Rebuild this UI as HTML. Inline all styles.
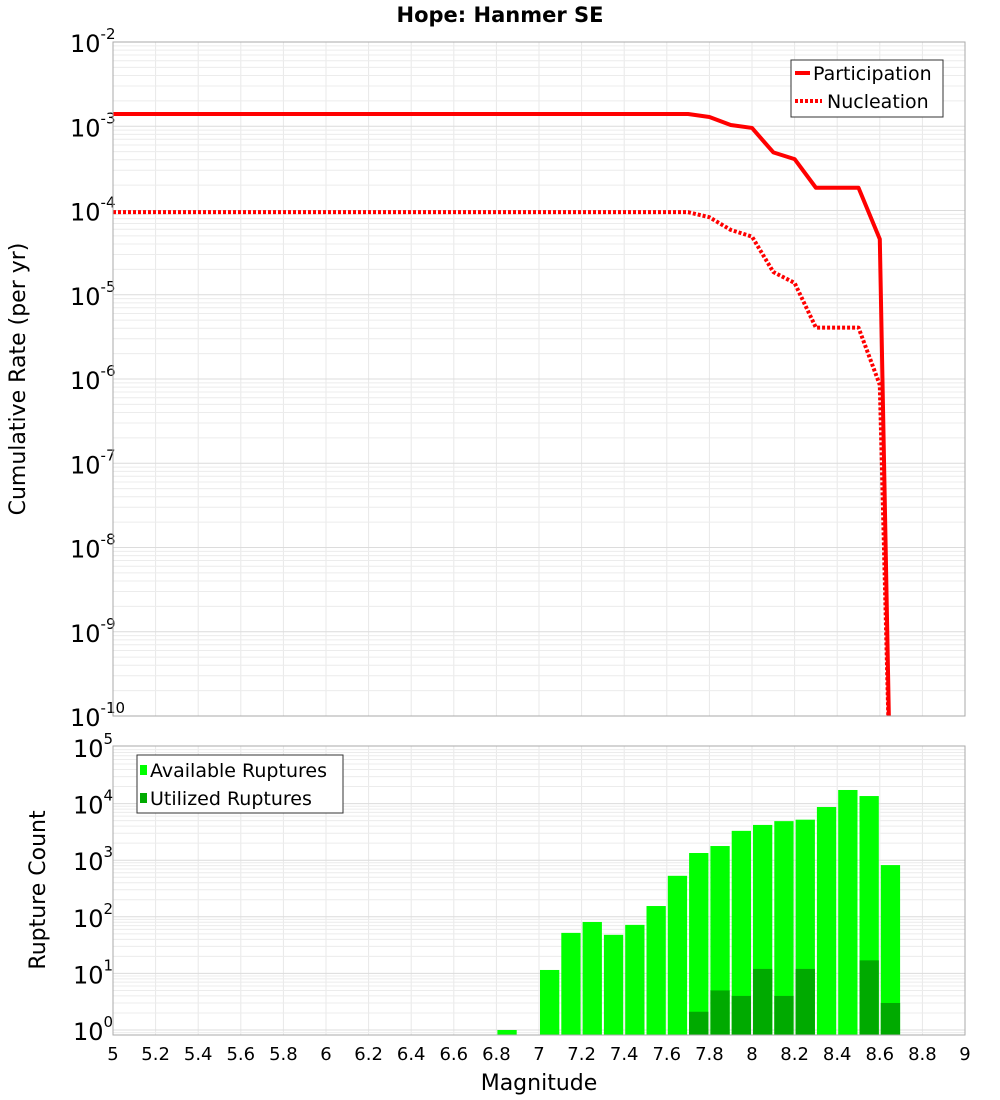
<!DOCTYPE html>
<html><head><meta charset="utf-8"><style>
body{margin:0;background:#fff;font-family:"Liberation Sans","DejaVu Sans",sans-serif;}
svg{display:block}
</style></head><body>
<svg id="chart" width="1000" height="1100" xmlns="http://www.w3.org/2000/svg" font-family="DejaVu Sans, Liberation Sans, sans-serif">
<text x="500" y="22" text-anchor="middle" font-size="21" font-weight="bold">Hope: Hanmer SE</text>
<g id="topplot"></g><g id="botplot"></g>
<text transform="translate(25,379) rotate(-90)" text-anchor="middle" font-size="22">Cumulative Rate (per yr)</text>
<text transform="translate(45,890) rotate(-90)" text-anchor="middle" font-size="22">Rupture Count</text>
<text x="539" y="1090" text-anchor="middle" font-size="22">Magnitude</text>
</svg>
<script>
const partMags=[5,7.7,7.8,7.9,8.0,8.1,8.2,8.3,8.4,8.5,8.6,8.65];
const partLog=[-2.855,-2.855,-2.89,-2.985,-3.02,-3.31,-3.39,-3.73,-3.73,-3.73,-4.34,-11];
const nuclMags=[5,7.7,7.8,7.9,8.0,8.1,8.2,8.3,8.4,8.5,8.6,8.65];
const nuclLog=[-4.02,-4.02,-4.08,-4.23,-4.31,-4.73,-4.86,-5.39,-5.39,-5.39,-6.07,-11];
const binMags=[6.8,7.0,7.1,7.2,7.3,7.4,7.5,7.6,7.7,7.8,7.9,8.0,8.1,8.2,8.3,8.4,8.5,8.6];
const availCounts=[1,11.5,52,81,48,72,155,530,1340,1780,3300,4200,4900,5200,8700,17400,13600,820];
const usedCounts=[0,0,0,0,0,0,0,0,2.1,5,4,12,4,12,0,0,17,3];
const xTicks=[5,5.2,5.4,5.6,5.8,6,6.2,6.4,6.6,6.8,7,7.2,7.4,7.6,7.8,8,8.2,8.4,8.6,8.8,9];

const NS="http://www.w3.org/2000/svg";
const X0=113,X1=965;
const xs=m=>X0+(m-5)/4*(X1-X0);
const T0=42,T1=716;const yt=l=>T0+(-2-l)*(T1-T0)/8;
const B0=746,B1=1035;const yb=v=>1030-Math.log10(v)*56.6;
function mk(p,tag,a,name,txt){const e=document.createElementNS(NS,tag);for(const k in a)e.setAttribute(k,a[k]);


if(txt!==undefined)e.textContent=txt;p.appendChild(e);return e;}
const topG=document.getElementById('topplot'),botG=document.getElementById('botplot');
function grid(g,ya,yb2,decs,yf){
 for(const m of xTicks)mk(g,'line',{x1:xs(m),x2:xs(m),y1:ya,y2:yb2,stroke:'#e8e8e8'},'v-grid');
 for(const d of decs)for(let k=1;k<10;k++){const y=yf(d,k);if(y<ya||y>yb2)continue;
  mk(g,'line',{x1:X0,x2:X1,y1:y,y2:y,stroke:k==1?'#dcdcdc':'#ececec'},'h-grid');}
}
// top
mk(topG,'rect',{x:X0,y:T0,width:X1-X0,height:T1-T0,fill:'#fff'},'plot-bg-top');
grid(topG,T0,T1,[-10,-9,-8,-7,-6,-5,-4,-3,-2],(d,k)=>yt(d+Math.log10(k)));
const tc=mk(topG,'clipPath',{id:'ct'},'clip');mk(tc,'rect',{x:X0,y:T0,width:X1-X0,height:T1-T0},'clip-rect');
for(let d=-10;d<=-2;d++){const y=yt(d);const t=mk(topG,'text',{x:70,y:y+10,'font-size':24},'y-tick-top');
 t.textContent='10';const s=document.createElementNS(NS,'tspan');s.setAttribute('dy','-13');s.setAttribute('font-size','15');s.textContent=String(d);t.appendChild(s);}
function line(mags,logs,name,dash){const pts=mags.map((m,i)=>xs(m)+','+yt(logs[i])).join(' ');
 const a={points:pts,fill:'none',stroke:'#ff0000','stroke-width':4,'clip-path':'url(#ct)','stroke-linejoin':'round'};if(dash)a['stroke-dasharray']='3,2';mk(topG,'polyline',a,name);}
line(nuclMags,nuclLog,'nucleation-line',true);
line(partMags,partLog,'participation-line',false);
mk(topG,'rect',{x:X0,y:T0,width:X1-X0,height:T1-T0,fill:'none',stroke:'#aaa'},'plot-frame-top');
const lg=mk(topG,'g',{},'legend-top');
mk(lg,'rect',{x:791,y:60,width:152,height:57,fill:'#fff',stroke:'#333'},'legend-box');
mk(lg,'line',{x1:795,x2:810,y1:73,y2:73,stroke:'#f00','stroke-width':4},'legend-swatch-participation');
mk(lg,'text',{x:813,y:80,'font-size':19},'legend-participation','Participation');
mk(lg,'line',{x1:795,x2:822,y1:101,y2:101,stroke:'#f00','stroke-width':4,'stroke-dasharray':'3,2'},'legend-swatch-nucleation');
mk(lg,'text',{x:827,y:108,'font-size':19},'legend-nucleation','Nucleation');
// bottom
mk(botG,'rect',{x:X0,y:B0,width:X1-X0,height:B1-B0,fill:'#fff'},'plot-bg-bottom');
grid(botG,B0,B1,[-1,0,1,2,3,4],(d,k)=>yb(Math.pow(10,d)*k));
for(let d=0;d<=5;d++){const y=yb(Math.pow(10,d));const t=mk(botG,'text',{x:73,y:y+10,'font-size':24},'y-tick-bottom');
 t.textContent='10';const s=document.createElementNS(NS,'tspan');s.setAttribute('dy','-13');s.setAttribute('font-size','15');s.textContent=String(d);t.appendChild(s);}
binMags.forEach((m,i)=>{const xa=xs(m)+1,w=xs(m+0.1)-xs(m)-2;
 if(availCounts[i]>0){const y=yb(availCounts[i]);mk(botG,'rect',{x:xa,y:y,width:w,height:B1-y,fill:'#00ff00'},'bar-available');}
 if(usedCounts[i]>0){const y=yb(usedCounts[i]);mk(botG,'rect',{x:xa,y:y,width:w,height:B1-y,fill:'#00aa00'},'bar-utilized');}});
mk(botG,'rect',{x:X0,y:B0,width:X1-X0,height:B1-B0,fill:'none',stroke:'#aaa'},'plot-frame-bottom');
for(const m of xTicks)mk(botG,'text',{x:xs(m),y:1060,'font-size':18,'text-anchor':'middle'},'x-tick',String(m));
const lb=mk(botG,'g',{},'legend-bottom');
mk(lb,'rect',{x:137,y:755,width:206,height:58,fill:'#fff',stroke:'#333'},'legend-box');
mk(lb,'rect',{x:140,y:765,width:7,height:10,fill:'#00ff00'},'legend-swatch-available');
mk(lb,'text',{x:150,y:777,'font-size':19},'legend-available','Available Ruptures');
mk(lb,'rect',{x:140,y:793,width:7,height:10,fill:'#00aa00'},'legend-swatch-utilized');
mk(lb,'text',{x:150,y:805,'font-size':19},'legend-utilized','Utilized Ruptures');
</script>
</body></html>
